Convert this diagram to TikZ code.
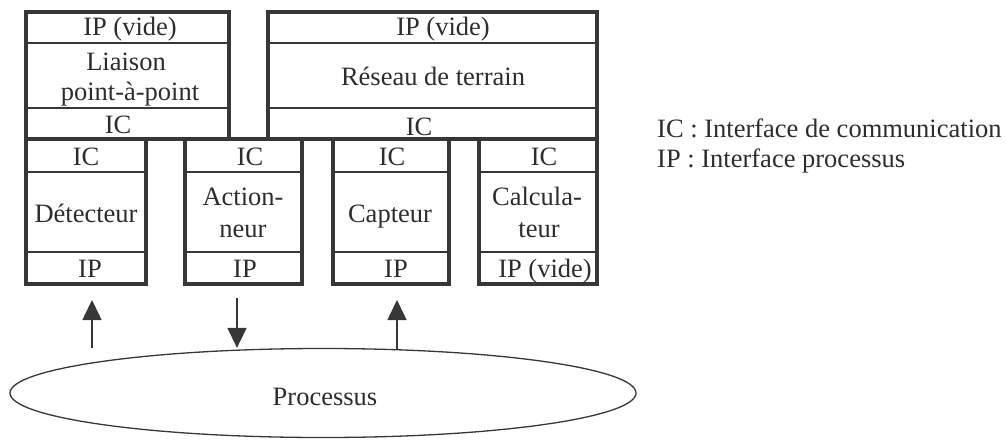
\documentclass[tikz,border=0pt]{standalone}
\usepackage{fontspec}
\setmainfont{Liberation Serif}
\usetikzlibrary{arrows.meta,shapes.geometric}
\definecolor{ink}{RGB}{55,55,55}
\definecolor{txt}{RGB}{45,45,45}
\begin{document}
\begin{tikzpicture}[x=1pt,y=-1pt,
  frame/.style={draw=ink,line width=3.4pt,line join=miter},
  divider/.style={draw=ink,line width=1.8pt},
  lbl/.style={inner sep=0pt,anchor=base,text=txt,font=\fontsize{26.5}{32}\selectfont},
  leg/.style={inner sep=0pt,anchor=base west,text=txt,font=\fontsize{26.5}{32}\selectfont},
  flow/.style={draw=ink,line width=1.6pt,-{Triangle[width=19pt,length=20pt]}}]
\useasboundingbox (0,0) rectangle (1006,439);
% top boxes
\draw[frame] (26,12) rectangle (229,139);
\draw[divider] (26,43) -- (229,43) (26,108) -- (229,108);
\draw[frame] (268,12) rectangle (597,139);
\draw[divider] (268,43) -- (597,43) (268,108) -- (597,108);
% bottom boxes
\foreach \l/\r in {26/146,185/302,333/449,479/597}{
  \draw[frame] (\l,139) rectangle (\r,284);
  \draw[divider] (\l,172) -- (\r,172) (\l,252) -- (\r,252);
}
% texts of the top-left box
\node[lbl] (lip) at (130,35) {IP (vide)};
\node[lbl] (lli1) at (126,70) {Liaison};
\node[lbl] (lli2) at (130,100) {point-à-point};
\node[lbl] (lic) at (118,133) {IC};
% texts of the top-right box
\node[lbl] (rip) at (443,35) {IP (vide)};
\node[lbl] (rres) at (433,85) {Réseau de terrain};
\node[lbl] (ric) at (419,135) {IC};
% Détecteur
\node[lbl] (dic) at (86,165) {IC};
\node[lbl] (det) at (86,222) {Détecteur};
\node[lbl] (dip) at (90,277) {IP};
% Actionneur
\node[lbl] (aic) at (250,165) {IC};
\node[lbl] (act1) at (243,205) {Action-};
\node[lbl] (act2) at (243,237) {neur};
\node[lbl] (aip) at (245,277) {IP};
% Capteur
\node[lbl] (cic) at (392,165) {IC};
\node[lbl] (cap) at (390,222) {Capteur};
\node[lbl] (cip) at (396,277) {IP};
% Calculateur
\node[lbl] (kic) at (544,165) {IC};
\node[lbl] (kal1) at (537,205) {Calcula-};
\node[lbl] (kal2) at (539,237) {teur};
\node[lbl] (kip) at (545,277) {IP (vide)};
% legend
\node[leg] (legic) at (657,137) {IC : Interface de communication};
\node[leg] (legip) at (657,167) {IP : Interface processus};
% process
\node[draw=ink,line width=1.3pt,ellipse,minimum width=626pt,minimum height=89pt,inner sep=0pt] (proc) at (323,393) {};
\node[lbl] (proct) at (325,405) {Processus};
% arrows
\coordinate (a1s) at (92,348);
\coordinate (a1e) at (92,300);
\coordinate (a2s) at (237,298);
\coordinate (a3s) at (397,350);
\coordinate (a3e) at (397,300);
\draw[flow] (a1s) -- (a1e);
\draw[flow] (a2s) -- (a2s |- proc.north);
\draw[flow] (a3s) -- (a3e);
\end{tikzpicture}
\end{document}
